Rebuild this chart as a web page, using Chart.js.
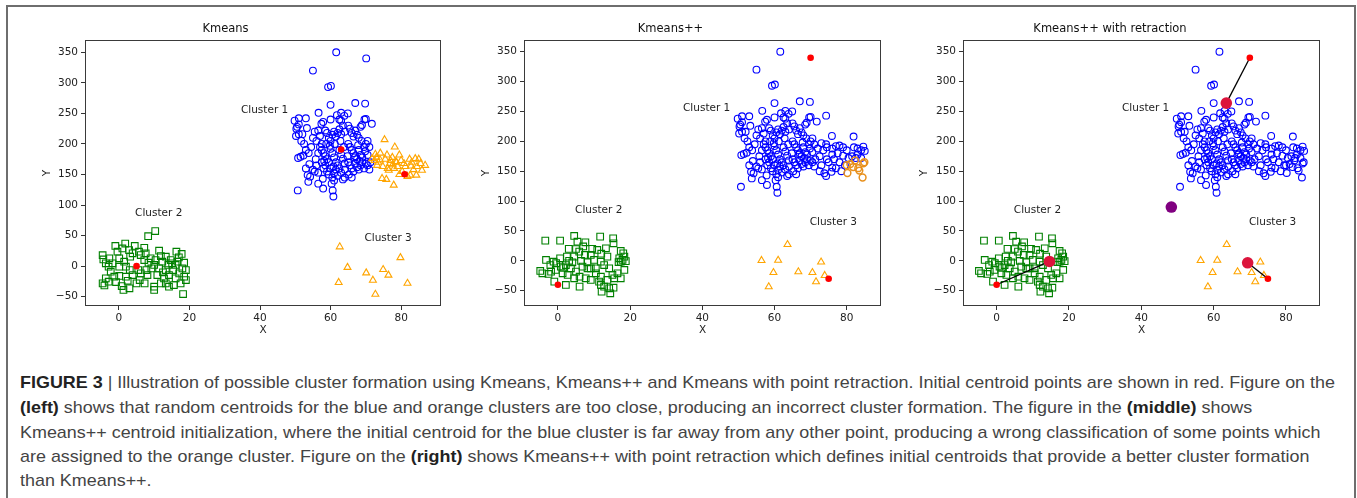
<!DOCTYPE html>
<html><head><meta charset="utf-8">
<script src="https://cdn.jsdelivr.net/npm/chart.js@4.4.1/dist/chart.umd.min.js"></script>
<style>
html,body{margin:0;padding:0;background:#fff;width:1357px;height:498px;overflow:hidden;position:relative;}
#frame{position:absolute;left:6px;top:5px;width:1350px;height:600px;border:2px solid #6e6e6e;box-sizing:border-box;}
canvas{position:absolute;}
.cap{position:absolute;left:20px;white-space:nowrap;font-family:"Liberation Sans Narrow","Arial Narrow","Liberation Sans",sans-serif;font-size:17px;color:#444;transform-origin:0 50%;line-height:24px;height:24px;}
.cap b{color:#222;}
</style></head>
<body>
<div id="frame"></div>
<canvas id="c1" width="440" height="330" style="left:10px;top:15px"></canvas>
<canvas id="c2" width="430" height="330" style="left:460px;top:15px"></canvas>
<canvas id="c3" width="430" height="330" style="left:900px;top:15px"></canvas>
<div class="cap" id="l1" style="top:371px"><b>FIGURE 3</b> | Illustration of possible cluster formation using Kmeans, Kmeans++ and Kmeans with point retraction. Initial centroid points are shown in red. Figure on the</div>
<div class="cap" id="l2" style="top:396px"><b>(left)</b> shows that random centroids for the blue and orange clusters are too close, producing an incorrect cluster formation. The figure in the <b>(middle)</b> shows</div>
<div class="cap" id="l3" style="top:421px">Kmeans++ centroid initialization, where the initial centroid for the blue cluster is far away from any other point, producing a wrong classification of some points which</div>
<div class="cap" id="l4" style="top:445px">are assigned to the orange cluster. Figure on the <b>(right)</b> shows Kmeans++ with point retraction which defines initial centroids that provide a better cluster formation</div>
<div class="cap" id="l5" style="top:469px">than Kmeans++.</div>
<script>
// ---------- DATA ----------
const xTicks = [0, 20, 40, 60, 80];
const yTicks = [-50, 0, 50, 100, 150, 200, 250, 300, 350];
const titles = ["Kmeans", "Kmeans++", "Kmeans++ with retraction"];

// Cluster 1 (blue circles) - core part, shared by all panels
const blueCore = [
 [61.6,350],[55,320],[59.3,293],[60.1,295],[60,264],[67,267],[69.8,266],[56.6,251],
 [50.5,228],[51,232],[50.3,225],[51,242],[53,242],[53.3,226],[50.2,213],[51,216],[51.7,205],[49.8,238],[52,216],
 [52.5,200],[53,190],[51.5,179],[52.3,181],[50.8,177],[53.8,185],[54.5,195],[55,210],[55.5,220],[56.5,222],
 [57,213],[54,167],[53,160],[55,158],[53.5,149],[54.2,146.5],[55.5,154.8],[53.7,138],[56.5,153],[56,165],
 [55.8,175],[56.5,185],[57,195],[57.5,200],[56,205],[50.7,124],[57.9,127],[57.8,143],[56.5,135],
 [57.4,233],[57.9,236],[58.5,222],[59,218],[59.5,210],[60,205],[60.5,215],[61,220],[61.5,212],[62,218],
 [62.5,224],[63,216],[63.5,230],[64,220],[60,240],[61.8,247],[62.5,240],[63,251],[63.9,246],[63,238],
 [57.5,190],[58,185],[58.5,180],[59,175],[59.5,170],[60,192],[60.5,185],[61,178],[61.5,170],[62,165],
 [62.5,190],[63,183],[63.5,176],[64,168],[58,160],[58.5,165],[59,155],[59.5,150],[60,160],[60.5,145],
 [61,152],[61.5,158],[62,148],[62.5,160],[63,153],[63.5,142],[64,158],[57.5,170],[58.8,200],[59.8,197],
 [61.2,200],[62.8,205],[60.3,135],[60.6,124],[60.8,114],[61,140],[64,145],[58.2,172],[63.8,195],[60.8,163],
 [64.9,250],[65,230],[65.5,225],[66,218],[66.5,212],[67,222],[67.5,215],[68,210],[68.5,228],[68.9,231],
 [69.6,240],[70,241],[71.7,233],[68.8,205],[65,200],[65.5,195],[66,190],[66.5,185],[67,180],[67.5,175],
 [68,190],[68.5,182],[69,178],[69.5,195],[70,200],[70.5,205],[65,170],[65.5,165],[66,160],[66.5,155],
 [67,168],[67.5,162],[68,158],[68.5,165],[69,170],[69.5,160],[70,168],[70.5,165],[71,158],[65.2,150],
 [66.8,178],[68.2,172],[64.8,180],[66,145],[69.8,188],[71,195],[70.5,182],[67.8,198],[71.3,170]
];
// Panel 1 only: the far point that is the Kmeans++ centroid in the other panels
const blueTop1 = [[70.1,340]];
// Cluster 1 right band (panels 2 and 3)
const blueRight = [
 [74.3,243],[73,197],[74.3,195],[75.9,209],[72,188],[73.5,185],[74.5,190],[76,188],[77,192],[78,193],
 [79,190],[80,185],[81.9,208],[82,190],[83,188],[84.6,191],[84,185],[76,178],[77.5,180],[79,176],
 [80.5,172],[81.5,175],[83,178],[84,172],[73.8,146.5],[74.3,142],[75.8,149],[75,165],[76.5,170],[78,165],
 [79.5,160],[82.5,172],[77,155],[78.5,150],[76,156],[74.5,170],[72.5,175],[73,160],[85,184],[72.5,150]
];
// Panel 2: points of cluster 1 assigned to the orange cluster
const orangeCircles2 = [[80,160],[80.2,147],[81.8,157],[83.2,155],[83.5,151],[84.6,163],[84.9,165],[84.4,139.5],[82.3,168],[81,162]];

// Panel 1 (Kmeans): orange triangles near cluster 1
const orangeTri1 = [
 [75.3,207],[78.2,195],[72.7,183],[74.1,185],[76,182],[79.5,182],[72.5,173],[74,174],[75.5,175],[77,173],
 [78.5,171],[80,173],[82.4,175],[84,176],[85,175],[86.8,165],[81.2,163],[82.8,164],[84.5,163],[85.9,157],
 [73.2,165],[74.8,163],[76.2,160],[77.6,166],[79,163],[74.6,143.5],[75.8,142],[77.9,132.6],[76.5,157],[82.6,149],
 [84.3,149],[80.3,155],[78.7,170],[77.5,178],[73.5,170],[80.8,168],[83.5,158],[79.5,150],[81.8,147],[78,160],
 [76.8,168],[71.8,176],[73,178],[83,170],[85.5,168]
];
const cluster3_1 = [[62.6,31.6],[64.8,-2],[62.3,-26.7],[70.1,-11],[72,-23],[72.7,-46],[74.9,-5.5],[76.4,-14.7],[79.8,14],[81.8,-28]];
const green1 = [
 [8.3,49],[10.3,57.5],[-4.6,18],[-4.4,11],[-1,33],[1.8,37],[1,29],[-0.4,23.7],[2.9,26.4],[3.9,21],
 [3.2,15.5],[5.7,23.7],[6.2,18.2],[7.6,21],[11.4,25.3],[16.3,23.7],[13.3,15.5],[14.7,10],[16.6,7.3],[18.5,5.7],
 [16.1,1.9],[18,-3.6],[14,1.9],[12.3,7.3],[10.4,10],[9,12.8],[8.4,5.7],[7.2,10],[10,1.9],[11.4,-3.6],
 [13.3,-6.3],[15.4,-6.3],[17.1,-11.8],[18.5,-17.2],[19,-22.7],[17.5,-28.2],[16.1,-20],[14.2,-14.5],[12.8,-20],[10.9,-14.5],
 [11.9,-28.2],[10,-33.6],[10,-39],[14.2,-33.6],[15.6,-30.9],[18.2,-45.6],[8.1,-14.5],[6.2,-11.8],[3.9,-14.5],[2,-17.2],
 [0.1,-16.1],[-2.3,-9],[-2.9,-0.9],[-3.7,4.6],[-1.8,4.6],[0.1,-0.9],[1.5,7.3],[0.1,12.8],[-2.7,12.8],[-3.7,-20],
 [-2.9,-25.4],[-4.6,-28.2],[-4.1,-31.5],[0.8,-32.5],[1.3,-39],[3,-36.3],[5.9,-22.7],[7.3,-28.2],[5,-28.2],[3.1,-6.3],
 [5.5,-6.3],[7.8,-6.3],[9.2,-3.6],[2,-0.9],[-1.3,-17.2],[15.1,4.6],[17,14.4],[11.9,16.6],[19,-6.3],[13.3,-28.2],
 [4.5,33],[7.2,30],[12.5,-10],[17.8,20],[-0.8,-26],[2.5,-24]
];
const red1 = [[63,191],[81,150.5],[5,0]];

// Panels 2 and 3
const cluster3_2 = [[56.4,0.6],[58.4,-43.5],[59.7,-19.5],[61,1],[63.6,27.3],[66.6,-18.4],[70.5,-19.5],[71.5,-35],[72.9,-2],[73.9,-24.5]];
const green2 = [
 [-3.5,33.8],[0.6,33.8],[4.5,41.6],[5.4,32.1],[7.6,31],[11.7,40.5],[15.3,37.7],[15.4,29.3],[5,19.8],[5.9,15.4],
 [4.5,7],[7.5,9.8],[9.1,9.8],[10.9,18.2],[13.3,21],[17.4,16.5],[18.1,12.6],[17,4.2],[17.9,1.4],[18.4,7],
 [17.4,-1.4],[13.7,7],[11.9,-1.4],[10,1.4],[8.2,-2.5],[6.4,-0.2],[2.5,7],[0.6,4.2],[-1.2,-1.4],[-3.3,1.4],
 [-2.1,-7],[-4.9,-17],[-4.3,-20.9],[-0.6,-15.3],[0.8,-9.7],[2.2,-7],[3.6,-12.5],[5,-18.1],[6,-26.5],[4.5,-29.3],
 [2.7,-23.7],[7.7,-29.3],[9.1,-12.5],[10.5,-20.9],[11.9,-26.5],[11.4,-34.8],[11.9,-40.4],[12.8,-43.2],[13.7,-32],[15.1,-23.7],
 [16.5,-20.9],[15.6,-29.3],[17.4,-29.3],[14.2,-46],[15.4,-44.9],[12.1,-51.6],[14.5,-54.4],[18.4,-15.3],[2.2,-40.4],[6,-43.2],
 [-1,-34.8],[-1.9,-18.1],[1.3,-20.9],[8.2,-12.5],[6.8,-9.7],[4,-2.5],[12.8,-7],[14.2,-12.5],[10.5,-12.5],[9.1,-32],
 [3.1,0],[1.5,-12],[-2.6,-22],[9.5,20],[16.8,-2],[18.8,-0.5],[7,24],[3,20],[12,12],[-0.5,-4]
];
const red2 = [[70,340],[75,-30],[0,-40]];
const retracted3 = [[63.5,264],[69.4,-3.3],[14.6,-1]];
const purple3 = [[48.3,90]];

const labels1 = [[41.3,255,"Cluster 1"],[11.3,86,"Cluster 2"],[76.3,46,"Cluster 3"]];
const labels2 = [[41.2,255,"Cluster 1"],[11.3,85,"Cluster 2"],[76.3,65,"Cluster 3"]];

// ---------- HELPERS ----------
const pts = a => a.map(p => ({x:p[0], y:p[1]}));
const fmt = v => (v < 0 ? "\u2212" + Math.abs(v) : String(v));
const FONT = "'DejaVu Sans', sans-serif";

function hollow(data, color, style, r, order, bw){
  return {data: pts(data), pointStyle: style, pointRadius: r, pointHoverRadius: r,
    pointBorderWidth: bw || 1.1, borderColor: color, pointBorderColor: color,
    backgroundColor: 'rgba(0,0,0,0)', pointBackgroundColor: 'rgba(0,0,0,0)', showLine:false, order: order};
}
function filled(data, color, r, order){
  return {data: pts(data), pointStyle:'circle', pointRadius: r, pointHoverRadius: r, pointBorderWidth: 0,
    borderColor: color, pointBorderColor: color, backgroundColor: color, pointBackgroundColor: color, showLine:false, order: order};
}

const framePlugin = {
  id:'frameAndText',
  afterDatasetsDraw(chart, args, opts){
    const {ctx, chartArea:a, scales} = chart;
    ctx.save();
    ctx.strokeStyle = '#3a3a3a'; ctx.lineWidth = 1;
    ctx.strokeRect(Math.round(a.left)+0.5, Math.round(a.top)+0.5, Math.round(a.right-a.left)-1, Math.round(a.bottom-a.top)-1);
    ctx.fillStyle = '#222';
    ctx.font = "10.5px " + FONT;
    ctx.textAlign = 'center'; ctx.textBaseline = 'middle';
    (opts.labels || []).forEach(l => {
      ctx.fillText(l[2], scales.x.getPixelForValue(l[0]), scales.y.getPixelForValue(l[1]));
    });
    ctx.restore();
  }
};

function options(p){
  return {
    animation:false, responsive:false, devicePixelRatio:1,
    layout:{padding:{left:0, right:p.padRight, top:0, bottom:0}},
    plugins:{
      legend:{display:false}, tooltip:{enabled:false},
      title:{display:true, text:p.title, color:'#111', font:{family:FONT, size:11.5, weight:'normal', lineHeight:1.2}, padding:{top:7.5, bottom:3.7}},
      frameAndText:{labels:p.labels}
    },
    scales:{
      x:{type:'linear', min:p.xmin, max:p.xmax,
        afterBuildTicks:s => { s.ticks = xTicks.map(v => ({value:v})); },
        afterFit:s => { s.height = 39; },
        ticks:{color:'#222', font:{family:FONT, size:10.5}, padding:2, maxRotation:0, autoSkip:false, callback:fmt},
        grid:{drawOnChartArea:false, drawTicks:true, tickLength:4, color:'#333'},
        border:{display:false},
        title:{display:true, text:'X', color:'#222', font:{family:FONT, size:10.5}, padding:{top:0, bottom:8}}
      },
      y:{type:'linear', min:p.ymin, max:p.ymax,
        afterBuildTicks:s => { s.ticks = yTicks.map(v => ({value:v})); },
        afterFit:s => { s.width = p.yw; },
        ticks:{color:'#222', font:{family:FONT, size:10.5}, padding:3, autoSkip:false, callback:fmt},
        grid:{drawOnChartArea:false, drawTicks:true, tickLength:4, color:'#333'},
        border:{display:false},
        title:{display:true, text:'Y', color:'#222', font:{family:FONT, size:10.5}, padding:{top:p.ytp, bottom:0}}
      }
    }
  };
}

const BLUE='#0000ff', GREEN='#008000', ORANGE='#ffa500', RED='#ff0000';
const RC = 3.4, RS = 4.7, RT = 4.0;

// Panel 1
new Chart(document.getElementById('c1'), {
  type:'scatter',
  data:{datasets:[
    filled(red1, RED, 3.3, 0),
    hollow(blueCore, BLUE, 'circle', RC, 3),
    hollow(blueTop1, BLUE, 'circle', RC, 3),
    hollow(orangeTri1, ORANGE, 'triangle', RT, 2),
    hollow(cluster3_1, ORANGE, 'triangle', RT, 2),
    hollow(green1, GREEN, 'rect', RS, 4)
  ]},
  options: options({title:titles[0], xmin:-9.6, xmax:91.3, ymin:-65.2, ymax:370.1, yw:75, ytp:31, padRight:9, labels:labels1}),
  plugins:[framePlugin]
});

// Panel 2
new Chart(document.getElementById('c2'), {
  type:'scatter',
  data:{datasets:[
    filled(red2, RED, 3.3, 0),
    hollow(blueCore, BLUE, 'circle', RC, 3),
    hollow(blueRight, BLUE, 'circle', RC, 3),
    hollow(orangeCircles2, '#e8901c', 'circle', RC, 2, 1.5),
    hollow(cluster3_2, ORANGE, 'triangle', RT, 2),
    hollow(green2, GREEN, 'rect', RS, 4)
  ]},
  options: options({title:titles[1], xmin:-9.4, xmax:89.5, ymin:-75.6, ymax:369.6, yw:64, ytp:20, padRight:9, labels:labels2}),
  plugins:[framePlugin]
});

// Panel 3
const lineSets = red2.map((r, i) => ({data: pts([r, retracted3[i]]), showLine:true, borderColor:'#000', borderWidth:1.3,
  pointRadius:0, pointHoverRadius:0, order:1}));
new Chart(document.getElementById('c3'), {
  type:'scatter',
  data:{datasets:[
    filled(red2, RED, 3.3, 0),
    filled(retracted3, '#dc143c', 5.8, 0.5),
    filled(purple3, '#800080', 5.8, 0.5),
    ...lineSets,
    hollow(blueCore, BLUE, 'circle', RC, 3),
    hollow(blueRight, BLUE, 'circle', RC, 3),
    hollow(orangeCircles2, BLUE, 'circle', RC, 3),
    hollow(cluster3_2, ORANGE, 'triangle', RT, 2),
    hollow(green2, GREEN, 'rect', RS, 4)
  ]},
  options: options({title:titles[2], xmin:-9.3, xmax:89.4, ymin:-75.6, ymax:369.6, yw:63, ytp:18, padRight:10, labels:labels2}),
  plugins:[framePlugin]
});

// caption: fit first line to its target width, apply same horizontal scale to all lines
const l1 = document.getElementById('l1');
const s = 1315 / l1.getBoundingClientRect().width;
['l1','l2','l3','l4','l5'].forEach(id => { document.getElementById(id).style.transform = 'scaleX(' + s + ')'; });
</script>
</body></html>
